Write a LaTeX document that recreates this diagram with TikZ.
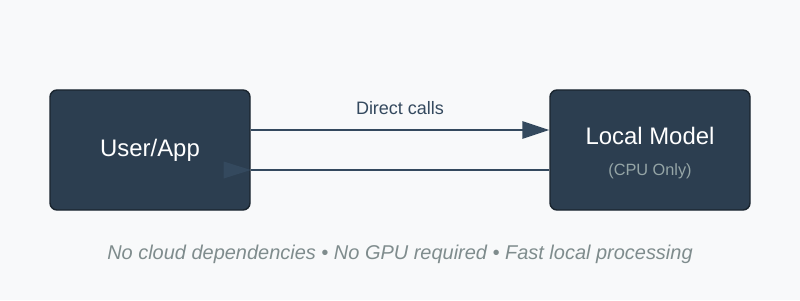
\documentclass[tikz,border=0pt]{standalone}
\usepackage{fontspec}
\setmainfont{Liberation Sans}
\usetikzlibrary{arrows.meta, positioning}
\definecolor{PageBg}{HTML}{F8F9FA}
\definecolor{BoxFill}{HTML}{2C3E50}
\definecolor{BoxEdge}{HTML}{1A252F}
\definecolor{LinkBlue}{HTML}{34495E}
\definecolor{SubGray}{HTML}{95A5A6}
\definecolor{NoteGray}{HTML}{7F8C8D}
\tikzset{
  darkbox/.style={draw=BoxEdge, line width=1pt, rounded corners=5pt, fill=BoxFill, text=white, align=center, minimum width=5cm, minimum height=3cm, inner sep=0pt, font=\fontsize{17}{20}\selectfont},
  link/.style={-{Triangle[length=6.75mm, width=4.25mm]}, line width=2.1pt, draw=LinkBlue},
  plainlink/.style={line width=2.1pt, draw=LinkBlue},
  linklabel/.style={text=LinkBlue, font=\fontsize{12.8}{15}\selectfont},
  note/.style={text=NoteGray, font=\fontsize{14.2}{17}\selectfont\itshape}
}
\begin{document}
\begin{tikzpicture}
\fill[PageBg] (0,0) rectangle (20,7.5);
\useasboundingbox (0,0) rectangle (20,7.5);
\node[darkbox] (user) at (3.75,3.75) {User/App};
\node[darkbox] (model) at (16.25,3.75) {\rule{0pt}{16.5pt}Local Model\\[2pt]{\fontsize{11.6}{14}\selectfont\color{SubGray}(CPU Only)}};
% forward call
\draw[link] ([yshift=0.5cm]user.east) -- ([yshift=0.5cm]model.west)
  node[linklabel, midway, above=0.22cm] (calls) {Direct calls};
% return path, head left pointing right as in the source
\draw[plainlink] ([yshift=-0.5cm]model.west) -- ([yshift=-0.5cm]user.east);
\fill[LinkBlue] ([yshift=-0.5cm]user.east) -- ++(-0.675,0.2125) -- ++(0,-0.425) -- cycle;
\node[note] (footer) at (10,1.15) {No cloud dependencies • No GPU required • Fast local processing};
\end{tikzpicture}
\end{document}
